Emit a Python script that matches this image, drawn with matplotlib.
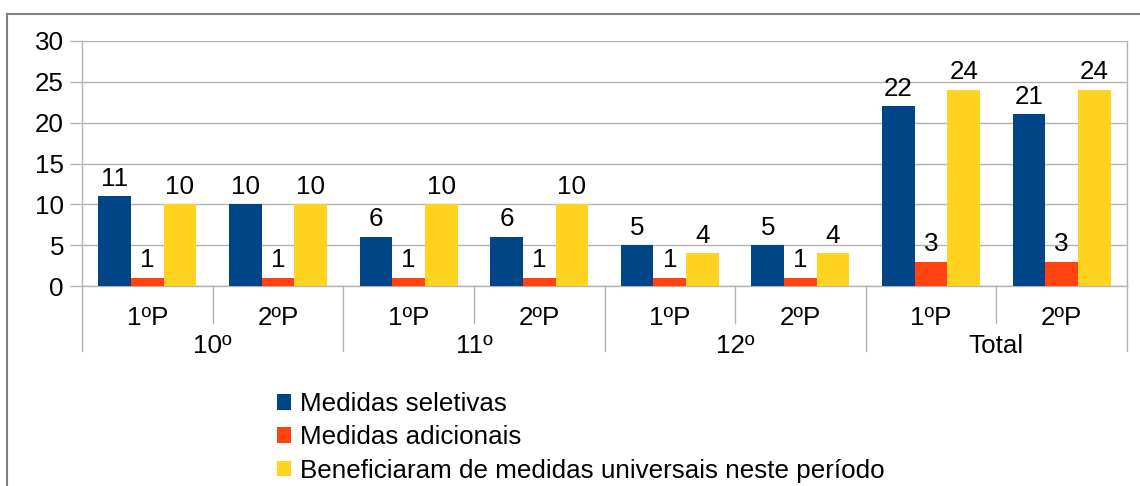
import numpy as np
import matplotlib
matplotlib.use('Agg')
import matplotlib.pyplot as plt
from matplotlib.patches import Patch
from matplotlib.lines import Line2D

plt.rcParams['font.family'] = ['Liberation Sans', 'DejaVu Sans']

# data
periods = ['1ºP', '2ºP', '1ºP', '2ºP', '1ºP', '2ºP', '1ºP', '2ºP']
groups = ['10º', '11º', '12º', 'Total']
seletivas = [11, 10, 6, 6, 5, 5, 22, 21]
adicionais = [1, 1, 1, 1, 1, 1, 3, 3]
universais = [10, 10, 10, 10, 4, 4, 24, 24]
series_names = ['Medidas seletivas', 'Medidas adicionais',
                'Beneficiaram de medidas universais neste período']
colors = ['#004586', '#ff420e', '#ffd320']

fs = 18.7
grid_c = '#b3b3b3'

fig = plt.figure(figsize=(11.4, 4.86), dpi=100)
ax = fig.add_axes([82 / 1140, 1 - 286 / 486, 1045 / 1140, 245 / 486])

x = np.arange(len(periods))
w = 0.25
for k, vals in enumerate([seletivas, adicionais, universais]):
    bars = ax.bar(x + (k - 1) * w, vals, width=w, color=colors[k], zorder=3)
    for b, v in zip(bars, vals):
        ax.annotate(str(v), (b.get_x() + b.get_width() / 2, v),
                    xytext=(0, 4), textcoords='offset points',
                    ha='center', va='bottom', fontsize=fs, color='black')

ax.set_xlim(-0.5, len(periods) - 0.5)
ax.set_ylim(0, 30)
ax.set_yticks(range(0, 31, 5))
ax.yaxis.grid(True, color=grid_c, linewidth=1, zorder=0)
ax.tick_params(axis='y', length=8.5, width=1, color=grid_c, labelsize=fs, pad=4.5)
ax.set_xticks([])
ax.spines['top'].set_visible(False)
for s in ['left', 'right', 'bottom']:
    ax.spines[s].set_color(grid_c)
    ax.spines[s].set_linewidth(1)

# hierarchical category axis
tr = ax.get_xaxis_transform()
for i in range(len(periods)):
    ax.text(i, -0.13, periods[i], transform=tr, ha='center', va='center', fontsize=fs)
for i in range(len(periods) + 1):
    xb = i - 0.5
    y_end = -0.265 if i % 2 == 0 else -0.151
    ax.add_line(Line2D([xb, xb], [0, y_end], transform=tr, color=grid_c,
                       linewidth=1, clip_on=False))
for g, name in enumerate(groups):
    ax.text(2 * g + 0.5, -0.245, name, transform=tr, ha='center', va='center', fontsize=fs)

# outer frame (top and left edges visible)
fig.add_artist(Line2D([7 / 1140, 1.0], [1 - 14 / 486, 1 - 14 / 486],
                      transform=fig.transFigure, color='#808080', linewidth=1.5))
fig.add_artist(Line2D([7 / 1140, 7 / 1140], [0, 1 - 14 / 486],
                      transform=fig.transFigure, color='#808080', linewidth=1.5))

handles = [Patch(facecolor=c, edgecolor='none') for c in colors]
fig.legend(handles, series_names, loc='upper left',
           bbox_to_anchor=(277 / 1140, 1 - 392 / 486), frameon=False,
           fontsize=fs, handlelength=0.55, handleheight=0.55,
           handletextpad=0.35, labelspacing=0.36, borderpad=0, borderaxespad=0)

fig.savefig('out.png', dpi=100)
